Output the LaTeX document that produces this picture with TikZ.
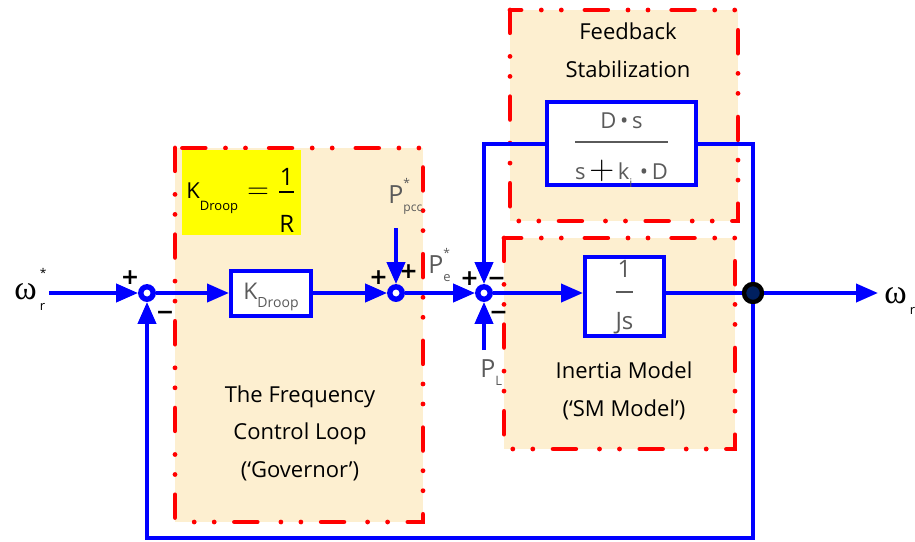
\documentclass[tikz,border=0pt]{standalone}
\usepackage{amsmath}
\usepackage{fontspec}
\setmainfont{Open Sans}
\newfontfamily\grk{Liberation Serif}
\newfontfamily\signs{DejaVu Sans}
\usetikzlibrary{arrows.meta,positioning}
\definecolor{wire}{RGB}{0,0,255}
\definecolor{frame}{RGB}{255,0,0}
\definecolor{zone}{RGB}{253,239,208}
\definecolor{hilite}{RGB}{255,255,0}
\definecolor{ink}{RGB}{90,90,90}
\definecolor{navy}{RGB}{0,32,96}
% symbol with subscript and superscript
\newcommand{\idx}[4][6.5]{#2\rlap{\raisebox{0.62em}{\fontsize{6}{6}\selectfont#4}}\raisebox{-0.34em}{\fontsize{#1}{#1}\selectfont#3}}
% fraction with a thick bar, numerator raised by #3, denominator lowered by #4
\newcommand{\quot}[4]{$\genfrac{}{}{0.9pt}{0}{\raisebox{#3}{#1}}{\raisebox{-#4}{#2}}$}

\begin{document}
\begin{tikzpicture}[x=0.5pt, y=-0.5pt,
    zonebox/.style={fill=zone, draw=frame, line width=2.4pt, line cap=round,
      dash pattern=on 11.35pt off 11.85pt on 0pt off 10pt on 0pt off 10.15pt},
    block/.style={draw=wire, fill=white, line width=2pt, inner sep=0pt, text=ink},
    sumpt/.style={circle, draw=wire, fill=white, line width=2.7pt,
      minimum size=6.2pt, inner sep=0pt},
    joint/.style={circle, draw=black, fill=navy, line width=2.2pt,
      minimum size=9pt, inner sep=0pt},
    wirel/.style={draw=wire, line width=2pt},
    flow/.style={wirel, -{Triangle[length=11pt,width=9pt]}},
    sgn/.style={inner sep=0pt, font=\signs\fontsize{11}{11}\bfseries},
    lbl/.style={inner sep=0pt, anchor=base west, text=ink,
      font=\fontsize{12.5}{12.5}\selectfont},
    omega/.style={inner sep=0pt, anchor=base west, font=\fontsize{17}{17}\selectfont},
    title/.style={align=center, font=\fontsize{11}{18.75}\selectfont}]
  \useasboundingbox (0,0) rectangle (915,541);
  % shaded zones
  \draw[zonebox] (175,148) rectangle (423,522);
  \draw[zonebox] (510,10) rectangle (738,221);
  \draw[zonebox] (504,238) rectangle (735,449);
  \node (govtxt) [title] at (300,433) {The Frequency\\Control Loop\\(`Governor')};
  \node (fbtxt) [title] at (628,50) {Feedback\\Stabilization};
  \node (smtxt) [title] at (624,391) {Inertia Model\\(`SM Model')};
  \node (kdef) [fill=hilite, minimum width=59.5pt, minimum height=42.5pt, inner sep=0pt,
    text height=18pt, text depth=12.5pt, font=\fontsize{11}{11}\selectfont]
    at (241.5,192.5)
    {K\raisebox{-6pt}{\fontsize{6.5}{6.5}\selectfont Droop}\hspace{4.5pt}{\fontsize{14}{14}\selectfont$=$}\hspace{4pt}{\fontsize{12}{12}\selectfont\quot{1}{R}{-2.6pt}{8.9pt}}};
  % blocks
  \node (kd) [block, minimum width=40pt, minimum height=22.5pt, text height=10pt,
    text depth=3.5pt, font=\fontsize{11.5}{11.5}\selectfont] at (271,293)
    {\idx[7]{K}{Droop}{}};
  \node (js) [block, minimum size=39.5pt, text height=12pt, text depth=10pt,
    font=\fontsize{12}{12}\selectfont] at (624.5,296) {\quot{1}{Js}{1.9pt}{7.4pt}};
  \node (fb) [block, minimum width=74.5pt, minimum height=41.5pt, text height=14pt,
    text depth=10pt, font=\fontsize{11}{11}\selectfont] at (621.5,143.5)
    {\quot{D\,•\,s}{s\,{\color{black}\fontsize{17}{17}\selectfont$+$}\,k\raisebox{-0.35em}{\fontsize{6}{6}\selectfont i}\,\,•\,D}{2.3pt}{8.7pt}};
  % summing points
  \node[sumpt] (s1) at (147,293) {};
  \node[sumpt] (s2) at (396,293) {};
  \node[sumpt] (s3) at (484,293) {};
  \node[joint] (jn) at (753,293) {};
  \node[sgn] (p1) at (130,277.5) {+};
  \node[sgn] (m1) at (165,315) {−};
  \node[sgn] (p2) at (378.5,277.5) {+};
  \node[sgn] (p3) at (408.5,271.5) {+};
  \node[sgn] (p4) at (469.5,279) {+};
  \node[sgn] (m2) at (496.5,281) {−};
  \node[sgn] (m3) at (498.5,315) {−};
  % signals
  \node[omega] (wref) at (14,299) {\idx{{\grk ω}\kern1.5pt}{r}{*}};
  \node[lbl] (ppcc) at (388,203) {\idx[6]{P}{pcc}{*}};
  \node[lbl] (pe) at (428,273) {\idx{P}{e}{*}};
  \node[lbl] (pl) at (480,377) {\idx{P}{L}{}};
  \node[omega] (wr) at (884,303) {\idx{{\grk ω}\kern1.5pt}{r}{}};
  \coordinate (win) at (49,293);
  \coordinate (pin) at (396,228);
  \coordinate (lin) at (484,350);
  \coordinate (wout) at (878,293);
  \coordinate (low) at (0,538);
  % connectors
  \draw[flow] (win) -- (s1);
  \draw[flow] (s1) -- (kd);
  \draw[flow] (kd) -- (s2);
  \draw[flow] (pin) -- (s2);
  \draw[flow] (s2) -- (s3);
  \draw[flow] (lin) -- (s3);
  \draw[flow] (fb.west) -| (s3);
  \draw[flow] (s3) -- (s3 -| js.west);
  \draw[wirel] (js.east |- jn) -- (jn);
  \draw[flow] (jn) -- (wout);
  \draw[wirel] (fb.east) -| (jn);
  \draw[flow] (jn) -- (jn |- low) -| (s1);
\end{tikzpicture}
\end{document}
